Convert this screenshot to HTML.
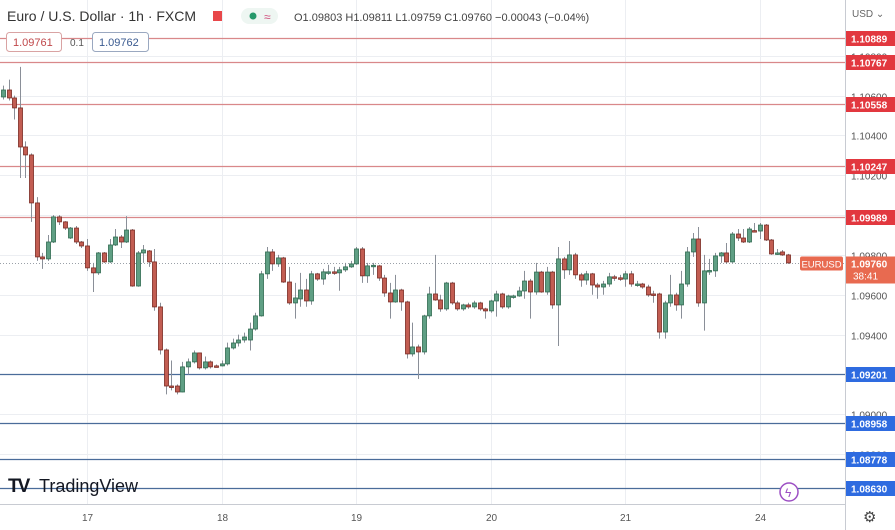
<!DOCTYPE html>
<html><head><meta charset="utf-8"><style>
body{margin:0;width:895px;height:530px;overflow:hidden;background:#fff;font-family:"Liberation Sans",sans-serif}
svg{display:block}
</style></head><body>
<svg id="chart" width="895" height="530" viewBox="0 0 895 530" xmlns="http://www.w3.org/2000/svg">
<rect x="0" y="0" width="895" height="530" fill="#fff"/>
<g id="grid"></g>
<g id="levels"></g>
<g id="candles"></g>
<line x1="845.5" y1="0" x2="845.5" y2="530" stroke="#c8cbd2"/>
<line x1="0" y1="504.5" x2="845" y2="504.5" stroke="#c8cbd2"/>
<g id="yaxis"></g>
<g id="xaxis"></g>
<text x="852" y="17" font-size="10" fill="#666">USD ⌄</text>
<g>
<text x="7" y="21" font-size="14" fill="#333">Euro / U.S. Dollar · 1h · FXCM</text>
<rect x="213" y="11" width="9" height="10" fill="#e8474a"/>
<rect x="241" y="8" width="37" height="16" rx="8" fill="#eef6f2"/>
<circle cx="253" cy="16" r="3.5" fill="#26996b"/>
<text x="264" y="21" font-size="12" fill="#d04a7a">≈</text>
<text x="294" y="21" font-size="11" fill="#444">O1.09803 H1.09811 L1.09759 C1.09760 −0.00043 (−0.04%)</text>
<rect x="6.5" y="32.5" width="55" height="19" rx="3" fill="#fff" stroke="#d9a3a3"/>
<text x="13" y="46" font-size="11" fill="#c0474a">1.09761</text>
<text x="70" y="46" font-size="10" fill="#555">0.1</text>
<rect x="92.5" y="32.5" width="56" height="19" rx="3" fill="#fff" stroke="#9aa8c0"/>
<text x="99" y="46" font-size="11" fill="#3a5a90">1.09762</text>
</g>
<g>
<text x="8" y="492" font-size="19" font-weight="bold" fill="#131722" letter-spacing="-2">TV</text>
<text x="39" y="492" font-size="18" fill="#131722">TradingView</text>
</g>
<circle cx="789" cy="492" r="9" fill="#fff" stroke="#9c4fc4" stroke-width="1.5"/>
<text x="785" y="497" font-size="12" fill="#9c4fc4">ϟ</text>
<text x="863" y="522" font-size="15" fill="#444">⚙</text>
</svg>
<script>
const opens=[1.10593,1.10628,1.10588,1.10538,1.10342,1.10302,1.10061,1.09790,1.09780,1.09865,1.09991,1.09966,1.09885,1.09935,1.09865,1.09845,1.09735,1.09710,1.09810,1.09765,1.09850,1.09890,1.09865,1.09925,1.09644,1.09810,1.09820,1.09765,1.09539,1.09323,1.09142,1.09142,1.09112,1.09238,1.09263,1.09308,1.09233,1.09263,1.09243,1.09243,1.09253,1.09333,1.09358,1.09373,1.09373,1.09428,1.09494,1.09705,1.09815,1.09755,1.09785,1.09664,1.09559,1.09579,1.09624,1.09569,1.09705,1.09679,1.09715,1.09715,1.09710,1.09725,1.09740,1.09755,1.09830,1.09695,1.09745,1.09745,1.09684,1.09609,1.09564,1.09624,1.09564,1.09303,1.09338,1.09313,1.09494,1.09604,1.09574,1.09529,1.09659,1.09559,1.09529,1.09549,1.09539,1.09559,1.09529,1.09519,1.09569,1.09604,1.09539,1.09594,1.09594,1.09619,1.09669,1.09614,1.09714,1.09614,1.09714,1.09549,1.09780,1.09725,1.09800,1.09700,1.09674,1.09705,1.09649,1.09639,1.09654,1.09690,1.09685,1.09679,1.09705,1.09654,1.09654,1.09639,1.09604,1.09604,1.09413,1.09559,1.09599,1.09549,1.09654,1.09815,1.09880,1.09559,1.09720,1.09720,1.09795,1.09810,1.09765,1.09905,1.09885,1.09865,1.09922,1.09920,1.09950,1.09875,1.09810,1.09815,1.09800];
const closes=[1.10628,1.10588,1.10538,1.10342,1.10302,1.10061,1.09790,1.09780,1.09865,1.09991,1.09966,1.09935,1.09935,1.09865,1.09845,1.09735,1.09710,1.09810,1.09765,1.09850,1.09890,1.09865,1.09925,1.09644,1.09810,1.09825,1.09765,1.09539,1.09323,1.09142,1.09138,1.09112,1.09238,1.09263,1.09308,1.09233,1.09263,1.09238,1.09240,1.09253,1.09333,1.09358,1.09373,1.09388,1.09428,1.09494,1.09705,1.09815,1.09755,1.09785,1.09664,1.09559,1.09584,1.09624,1.09569,1.09705,1.09679,1.09715,1.09715,1.09710,1.09725,1.09740,1.09755,1.09830,1.09695,1.09745,1.09748,1.09684,1.09609,1.09564,1.09624,1.09564,1.09303,1.09338,1.09313,1.09494,1.09604,1.09574,1.09529,1.09659,1.09559,1.09529,1.09549,1.09539,1.09559,1.09529,1.09519,1.09569,1.09604,1.09539,1.09594,1.09594,1.09619,1.09669,1.09614,1.09714,1.09614,1.09714,1.09549,1.09780,1.09725,1.09800,1.09700,1.09674,1.09705,1.09649,1.09639,1.09654,1.09690,1.09685,1.09679,1.09705,1.09654,1.09654,1.09639,1.09599,1.09599,1.09413,1.09559,1.09599,1.09549,1.09654,1.09815,1.09880,1.09559,1.09720,1.09722,1.09795,1.09810,1.09765,1.09905,1.09885,1.09865,1.09930,1.09920,1.09950,1.09875,1.09805,1.09810,1.09800,1.09760];
const highs=[1.10650,1.10680,1.10600,1.10744,1.10370,1.10310,1.10090,1.09810,1.09900,1.10000,1.10000,1.09970,1.09940,1.09945,1.09870,1.09880,1.09760,1.09815,1.09815,1.09880,1.09930,1.09900,1.09995,1.09930,1.09820,1.09850,1.09825,1.09830,1.09560,1.09330,1.09270,1.09150,1.09263,1.09280,1.09320,1.09310,1.09290,1.09270,1.09250,1.09270,1.09360,1.09380,1.09400,1.09410,1.09460,1.09510,1.09720,1.09840,1.09830,1.09800,1.09790,1.09740,1.09660,1.09710,1.09680,1.09720,1.09710,1.09730,1.09750,1.09740,1.09740,1.09760,1.09770,1.09840,1.09840,1.09760,1.09760,1.09750,1.09700,1.09660,1.09700,1.09630,1.09570,1.09460,1.09350,1.09500,1.09640,1.09800,1.09600,1.09665,1.09665,1.09570,1.09555,1.09560,1.09570,1.09565,1.09535,1.09575,1.09620,1.09610,1.09600,1.09600,1.09640,1.09720,1.09680,1.09760,1.09720,1.09740,1.09720,1.09840,1.09790,1.09870,1.09810,1.09710,1.09720,1.09710,1.09660,1.09670,1.09710,1.09700,1.09700,1.09720,1.09720,1.09670,1.09660,1.09650,1.09620,1.09610,1.09570,1.09700,1.09610,1.09720,1.09840,1.09910,1.09940,1.09800,1.09780,1.09810,1.09815,1.09860,1.09915,1.09930,1.09930,1.09940,1.09960,1.09960,1.09955,1.09880,1.09830,1.09825,1.09805];
const lows=[1.10580,1.10575,1.10480,1.10186,1.10186,1.09966,1.09770,1.09730,1.09770,1.09860,1.09950,1.09925,1.09880,1.09855,1.09835,1.09720,1.09614,1.09700,1.09760,1.09760,1.09845,1.09835,1.09860,1.09640,1.09640,1.09760,1.09740,1.09520,1.09300,1.09100,1.09120,1.09100,1.09110,1.09200,1.09255,1.09225,1.09225,1.09230,1.09235,1.09240,1.09245,1.09325,1.09340,1.09360,1.09320,1.09420,1.09490,1.09680,1.09720,1.09740,1.09660,1.09550,1.09480,1.09540,1.09540,1.09550,1.09670,1.09650,1.09700,1.09700,1.09620,1.09715,1.09735,1.09750,1.09660,1.09660,1.09700,1.09670,1.09590,1.09480,1.09560,1.09520,1.09280,1.09290,1.09177,1.09300,1.09480,1.09570,1.09515,1.09520,1.09550,1.09520,1.09520,1.09530,1.09530,1.09520,1.09480,1.09510,1.09490,1.09530,1.09530,1.09580,1.09590,1.09580,1.09480,1.09600,1.09610,1.09600,1.09530,1.09343,1.09680,1.09700,1.09680,1.09640,1.09650,1.09600,1.09580,1.09600,1.09640,1.09670,1.09670,1.09640,1.09640,1.09640,1.09630,1.09590,1.09560,1.09380,1.09380,1.09540,1.09520,1.09480,1.09640,1.09790,1.09540,1.09420,1.09700,1.09690,1.09760,1.09755,1.09760,1.09870,1.09860,1.09860,1.09915,1.09880,1.09870,1.09800,1.09800,1.09795,1.09755];
const resistanceLevels=[1.10889,1.10767,1.10558,1.10247,1.09989];
const supportLevels=[1.09201,1.08958,1.08778,1.08630];
const priceTicks=[1.08800,1.09000,1.09400,1.09600,1.09800,1.10000,1.10200,1.10400,1.10600,1.10800];
const dayLabels=["17","18","19","20","21","24"];
const dayCandleIndex=[15,39,63,87,111,135];
const lastPrice=1.09760;
const countdown="38:41";

const NS="http://www.w3.org/2000/svg";
const yTop=1.10889, yTopPx=38, pxPerUnit=19920;
function y(p){return yTopPx+(yTop-p)*pxPerUnit;}
function x(i){return 3+i*5.607;}
function mk(tag,attrs,parent){const e=document.createElementNS(NS,tag);for(const k in attrs)e.setAttribute(k,attrs[k]);parent.appendChild(e);return e;}
const grid=document.getElementById('grid'),lv=document.getElementById('levels'),cg=document.getElementById('candles'),ya=document.getElementById('yaxis'),xa=document.getElementById('xaxis');

priceTicks.forEach(p=>{
  const yy=Math.round(y(p))+0.5;
  const l=mk('line',{x1:0,x2:845,y1:yy,y2:yy,stroke:'#eceef2'},grid);
  
  
  const t=mk('text',{x:851,y:yy+4,'font-size':10,fill:'#555'},ya);
  t.textContent=p.toFixed(5);
  
  
});
dayLabels.forEach((d,k)=>{
  const xx=Math.round(x(dayCandleIndex[k]))+0.5;
  const l=mk('line',{x1:xx,x2:xx,y1:0,y2:504,stroke:'#eceef2'},grid);
  
  
  const t=mk('text',{x:xx,y:521,'font-size':10,fill:'#555','text-anchor':'middle'},xa);
  t.textContent=d;
  
  
});
function level(p,color,label){
  const yy=Math.round(y(p))+0.5;
  const l=mk('line',{x1:0,x2:845,y1:yy,y2:yy,stroke:color,'stroke-width':1.2},lv);
  
  
  const r=mk('rect',{x:846,y:yy-7.5,width:49,height:15,fill:label},ya);
  
  
  const t=mk('text',{x:851,y:yy+4,'font-size':10,fill:'#fff','font-weight':'bold'},ya);
  t.textContent=p.toFixed(5);
  
  
}
resistanceLevels.forEach(p=>level(p,'#d9888a','#e2383f'));
supportLevels.forEach(p=>level(p,'#4a6c9a','#2e6be0'));

closes.forEach((c,i)=>{
  const o=opens[i],h=highs[i],lo=lows[i];
  const up=c>=o;
  const fill=up?'#5f9f84':'#c25d52', edge=up?'#2f6a50':'#7a2a22';
  const cx=Math.round(x(i))+0.5;
  const w=mk('line',{x1:cx,x2:cx,y1:y(h),y2:y(lo),stroke:'#8a8f98','stroke-width':1},cg);
  
  
  const top=y(Math.max(o,c)),bh=Math.max(1.5,Math.abs(y(o)-y(c)));
  const b=mk('rect',{x:cx-2,y:top,width:4,height:bh,fill:fill,stroke:edge,'stroke-width':0.8},cg);
  
  
});

const ly=Math.round(y(lastPrice))+0.5;
const pl=mk('line',{x1:0,x2:845,y1:ly,y2:ly,stroke:'#9aa0a8','stroke-dasharray':'1,2'},lv);


const sb=mk('rect',{x:800,y:ly-7,width:43,height:14,fill:'#e86a50',rx:2},ya);


const st=mk('text',{x:821.5,y:ly+4,'font-size':9.5,fill:'#fff','text-anchor':'middle'},ya);
st.textContent='EURUSD';


const pb=mk('rect',{x:846,y:ly-7,width:49,height:27,fill:'#e86a50'},ya);


const pt=mk('text',{x:851,y:ly+4,'font-size':10,fill:'#fff','font-weight':'bold'},ya);
pt.textContent=lastPrice.toFixed(5);


const ct=mk('text',{x:853,y:ly+16,'font-size':10,fill:'#fff'},ya);
ct.textContent=countdown;


</script>
</body></html>
